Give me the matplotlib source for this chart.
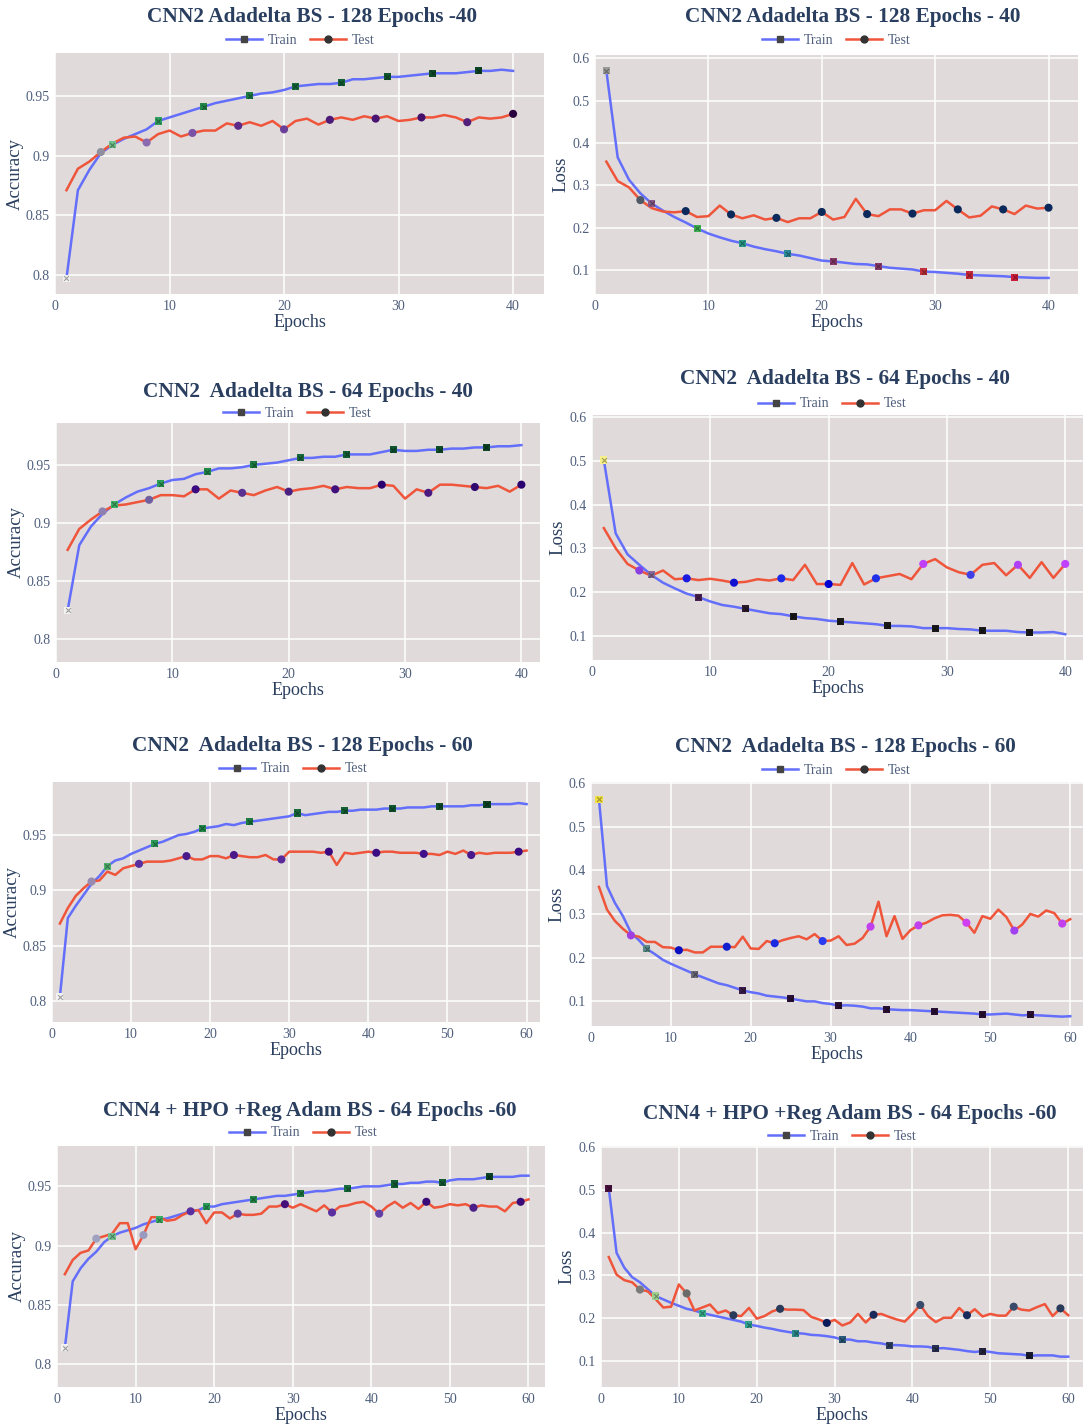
import matplotlib
matplotlib.use('Agg')
import numpy as np
import matplotlib.pyplot as plt
from matplotlib.lines import Line2D
from matplotlib.ticker import FuncFormatter

plt.rcParams['font.family'] = ['Liberation Serif', 'DejaVu Serif']

# ---- data ----
epochs40 = list(range(1, 41))
epochs60 = list(range(1, 61))

acc_train_128_40 = [0.797, 0.871, 0.888, 0.902, 0.909, 0.914, 0.918, 0.922, 0.929, 0.932,
                    0.935, 0.938, 0.941, 0.944, 0.946, 0.948, 0.950, 0.952, 0.953, 0.955,
                    0.958, 0.959, 0.960, 0.960, 0.961, 0.964, 0.964, 0.965, 0.966, 0.966,
                    0.967, 0.968, 0.969, 0.969, 0.969, 0.970, 0.971, 0.971, 0.972, 0.971]
acc_test_128_40 = [0.871, 0.889, 0.895, 0.903, 0.910, 0.915, 0.916, 0.911, 0.918, 0.921,
                   0.916, 0.919, 0.921, 0.921, 0.927, 0.925, 0.928, 0.925, 0.929, 0.922,
                   0.929, 0.931, 0.926, 0.930, 0.932, 0.930, 0.933, 0.931, 0.933, 0.929,
                   0.930, 0.932, 0.932, 0.934, 0.932, 0.928, 0.932, 0.931, 0.932, 0.935]
loss_train_128_40 = [0.571, 0.366, 0.313, 0.281, 0.257, 0.240, 0.225, 0.212, 0.198, 0.186,
                     0.177, 0.169, 0.163, 0.155, 0.149, 0.144, 0.138, 0.134, 0.128, 0.122,
                     0.120, 0.117, 0.114, 0.113, 0.109, 0.105, 0.103, 0.101, 0.096, 0.095,
                     0.093, 0.091, 0.088, 0.087, 0.086, 0.085, 0.083, 0.082, 0.081, 0.081]
loss_test_128_40 = [0.356, 0.310, 0.295, 0.265, 0.246, 0.238, 0.236, 0.239, 0.225, 0.227,
                    0.252, 0.231, 0.222, 0.229, 0.219, 0.223, 0.213, 0.222, 0.222, 0.237,
                    0.219, 0.225, 0.268, 0.232, 0.227, 0.243, 0.243, 0.233, 0.241, 0.241,
                    0.263, 0.243, 0.224, 0.228, 0.250, 0.243, 0.232, 0.252, 0.245, 0.247]

acc_train_64_40 = [0.825, 0.881, 0.897, 0.908, 0.916, 0.922, 0.927, 0.930, 0.934, 0.937,
                   0.938, 0.942, 0.944, 0.947, 0.947, 0.948, 0.950, 0.951, 0.952, 0.954,
                   0.956, 0.956, 0.957, 0.957, 0.959, 0.959, 0.959, 0.961, 0.963, 0.962,
                   0.962, 0.963, 0.963, 0.964, 0.964, 0.965, 0.965, 0.966, 0.966, 0.967]
acc_test_64_40 = [0.877, 0.895, 0.903, 0.910, 0.915, 0.916, 0.918, 0.920, 0.924, 0.924,
                  0.923, 0.929, 0.929, 0.921, 0.928, 0.926, 0.924, 0.928, 0.931, 0.927,
                  0.929, 0.930, 0.932, 0.929, 0.931, 0.930, 0.930, 0.933, 0.932, 0.921,
                  0.929, 0.926, 0.933, 0.933, 0.932, 0.931, 0.930, 0.932, 0.927, 0.933]
loss_train_64_40 = [0.502, 0.334, 0.286, 0.262, 0.239, 0.221, 0.208, 0.196, 0.188, 0.178,
                    0.170, 0.166, 0.161, 0.156, 0.151, 0.149, 0.144, 0.140, 0.138, 0.134,
                    0.132, 0.130, 0.128, 0.126, 0.122, 0.122, 0.121, 0.117, 0.117, 0.117,
                    0.115, 0.114, 0.111, 0.111, 0.111, 0.108, 0.107, 0.107, 0.108, 0.103]
loss_test_64_40 = [0.346, 0.300, 0.264, 0.249, 0.237, 0.249, 0.229, 0.231, 0.227, 0.230,
                   0.226, 0.221, 0.223, 0.229, 0.226, 0.231, 0.227, 0.262, 0.218, 0.218,
                   0.216, 0.266, 0.217, 0.231, 0.236, 0.241, 0.229, 0.264, 0.275, 0.256,
                   0.245, 0.239, 0.262, 0.266, 0.238, 0.262, 0.232, 0.268, 0.232, 0.264]

acc_train_128_60 = [0.804, 0.875, 0.886, 0.896, 0.906, 0.913, 0.922, 0.927, 0.929, 0.933,
                    0.936, 0.939, 0.942, 0.944, 0.947, 0.950, 0.951, 0.953, 0.956, 0.957,
                    0.958, 0.960, 0.959, 0.961, 0.962, 0.963, 0.964, 0.965, 0.966, 0.967,
                    0.970, 0.968, 0.969, 0.970, 0.971, 0.971, 0.972, 0.972, 0.973, 0.973,
                    0.973, 0.974, 0.974, 0.974, 0.975, 0.975, 0.975, 0.976, 0.976, 0.976,
                    0.976, 0.976, 0.977, 0.977, 0.978, 0.978, 0.978, 0.978, 0.979, 0.978]
acc_test_128_60 = [0.870, 0.884, 0.895, 0.902, 0.908, 0.909, 0.917, 0.914, 0.920, 0.922,
                   0.924, 0.926, 0.926, 0.926, 0.927, 0.929, 0.931, 0.928, 0.928, 0.931,
                   0.931, 0.929, 0.932, 0.931, 0.930, 0.930, 0.932, 0.928, 0.928, 0.935,
                   0.935, 0.935, 0.935, 0.934, 0.935, 0.923, 0.934, 0.933, 0.934, 0.935,
                   0.934, 0.935, 0.935, 0.934, 0.934, 0.934, 0.933, 0.933, 0.932, 0.935,
                   0.933, 0.936, 0.932, 0.934, 0.933, 0.934, 0.934, 0.934, 0.935, 0.936]
loss_train_128_60 = [0.562, 0.364, 0.325, 0.295, 0.257, 0.240, 0.220, 0.208, 0.195, 0.186,
                     0.178, 0.170, 0.162, 0.155, 0.148, 0.141, 0.137, 0.131, 0.125, 0.121,
                     0.118, 0.113, 0.111, 0.109, 0.106, 0.103, 0.100, 0.100, 0.096, 0.094,
                     0.090, 0.091, 0.090, 0.088, 0.084, 0.084, 0.082, 0.081, 0.080, 0.080,
                     0.079, 0.078, 0.077, 0.076, 0.075, 0.074, 0.073, 0.072, 0.070, 0.070,
                     0.071, 0.072, 0.070, 0.068, 0.069, 0.068, 0.067, 0.066, 0.065, 0.066]
loss_test_128_60 = [0.362, 0.310, 0.284, 0.266, 0.251, 0.248, 0.236, 0.236, 0.224, 0.223,
                    0.217, 0.218, 0.212, 0.212, 0.225, 0.225, 0.225, 0.224, 0.248, 0.221,
                    0.220, 0.238, 0.233, 0.240, 0.245, 0.249, 0.242, 0.254, 0.238, 0.239,
                    0.249, 0.229, 0.232, 0.245, 0.271, 0.328, 0.249, 0.295, 0.243, 0.263,
                    0.274, 0.280, 0.290, 0.297, 0.298, 0.296, 0.280, 0.257, 0.295, 0.289,
                    0.310, 0.293, 0.262, 0.276, 0.300, 0.294, 0.308, 0.302, 0.278, 0.288]

acc_train_cnn4_60 = [0.814, 0.870, 0.881, 0.889, 0.895, 0.903, 0.908, 0.911, 0.913, 0.915,
                     0.918, 0.920, 0.922, 0.923, 0.925, 0.927, 0.929, 0.930, 0.933, 0.933,
                     0.935, 0.936, 0.937, 0.938, 0.939, 0.940, 0.941, 0.942, 0.942, 0.943,
                     0.944, 0.945, 0.946, 0.946, 0.947, 0.948, 0.948, 0.949, 0.950, 0.950,
                     0.950, 0.951, 0.952, 0.952, 0.953, 0.953, 0.954, 0.954, 0.953, 0.955,
                     0.956, 0.956, 0.956, 0.957, 0.958, 0.958, 0.958, 0.958, 0.959, 0.959]
acc_test_cnn4_60 = [0.876, 0.888, 0.894, 0.896, 0.906, 0.908, 0.910, 0.919, 0.919, 0.897,
                    0.909, 0.924, 0.924, 0.921, 0.922, 0.926, 0.929, 0.930, 0.919, 0.928,
                    0.928, 0.923, 0.927, 0.926, 0.926, 0.927, 0.933, 0.933, 0.935, 0.932,
                    0.935, 0.932, 0.929, 0.934, 0.928, 0.933, 0.934, 0.936, 0.937, 0.933,
                    0.927, 0.933, 0.937, 0.932, 0.936, 0.931, 0.937, 0.932, 0.933, 0.935,
                    0.934, 0.935, 0.932, 0.934, 0.933, 0.933, 0.929, 0.936, 0.937, 0.939]
loss_train_cnn4_60 = [0.504, 0.353, 0.318, 0.296, 0.284, 0.268, 0.252, 0.244, 0.236, 0.229,
                      0.222, 0.218, 0.212, 0.208, 0.204, 0.200, 0.196, 0.192, 0.185, 0.182,
                      0.178, 0.175, 0.171, 0.168, 0.165, 0.164, 0.161, 0.160, 0.158, 0.155,
                      0.150, 0.150, 0.146, 0.146, 0.143, 0.141, 0.137, 0.137, 0.136, 0.134,
                      0.134, 0.133, 0.129, 0.130, 0.128, 0.126, 0.123, 0.121, 0.123, 0.121,
                      0.118, 0.117, 0.116, 0.115, 0.112, 0.113, 0.113, 0.113, 0.110, 0.110]
loss_test_cnn4_60 = [0.343, 0.302, 0.289, 0.284, 0.267, 0.263, 0.245, 0.225, 0.227, 0.279,
                     0.258, 0.218, 0.225, 0.232, 0.212, 0.218, 0.207, 0.205, 0.224, 0.199,
                     0.205, 0.216, 0.222, 0.220, 0.220, 0.219, 0.203, 0.197, 0.189, 0.196,
                     0.183, 0.190, 0.210, 0.190, 0.208, 0.210, 0.203, 0.197, 0.192, 0.210,
                     0.231, 0.205, 0.191, 0.201, 0.201, 0.224, 0.207, 0.221, 0.204, 0.210,
                     0.206, 0.206, 0.227, 0.220, 0.218, 0.226, 0.233, 0.205, 0.223, 0.207]

titles = ['CNN2 Adadelta BS - 128 Epochs -40', 'CNN2 Adadelta BS - 128 Epochs - 40',
          'CNN2  Adadelta BS - 64 Epochs - 40', 'CNN2  Adadelta BS - 64 Epochs - 40',
          'CNN2  Adadelta BS - 128 Epochs - 60', 'CNN2  Adadelta BS - 128 Epochs - 60',
          'CNN4 + HPO +Reg Adam BS - 64 Epochs -60', 'CNN4 + HPO +Reg Adam BS - 64 Epochs -60']

# ---- marker colours (every few epochs a coloured marker) ----
green_acc = ['#f2f2f2', '#6fbf8a', '#2f9e5e', '#23874c', '#1d7a44',
             '#17693b', '#146035', '#115530', '#0f4d2b', '#0c4426']
colors = {
    'p1_tr': green_acc,
    'p1_te': ['#8f8f9f', '#8a6bb0', '#7a52a6', '#5c2a88', '#6a3f99',
              '#4e1a78', '#4a1572', '#45106c', '#52207a', '#2b003f'],
    'p2_tr': ['#9a9a9a', '#8a5a8a', '#3cb050', '#2a9a8a', '#2a8a9a',
              '#8a3a6a', '#8a3a6a', '#c0303a', '#c8283a', '#d01c3a'],
    'p2_te': ['#505a66'] + ['#0b2a5b'] * 9,
    'p3_tr': ['#f2f2f2', '#3cb064', '#2a9d58', '#22884a', '#1b7a42',
              '#17693b', '#146035', '#115530', '#0f4d2b', '#0c4426'],
    'p3_te': ['#9080b0', '#7060a0', '#3a0a80', '#5a3090', '#4a2080',
              '#42107a', '#2a0070', '#4a1a80', '#300870', '#2a0070'],
    'p4_tr': ['#f5f08a', '#8a6a9a', '#4a2050', '#2a1a2a', '#1a1a1a',
              '#1a1a1a', '#1a1a1a', '#1a1a1a', '#1a1a1a', '#1a1a1a'],
    'p4_te': ['#8a40e0', '#1a1ae0', '#1010d0', '#1a2ae8', '#0000d0',
              '#2030e8', '#c040f8', '#4040e8', '#b040f8', '#c040ff'],
    'p5_tr': ['#f2f2f2', '#50b070', '#2a9a58', '#22884a', '#1b7a42',
              '#17693b', '#146035', '#115530', '#0f4d2b', '#0c4426'],
    'p5_te': ['#9a8ab0', '#5a30a0', '#4a1a8a', '#4a1a8a', '#5a2a9a',
              '#3a0a80', '#3c0c82', '#40108a', '#48188c', '#3a0a80'],
    'p6_tr': ['#f0e040', '#5a8a8a', '#6a6a7a', '#3a1a4a', '#2a1035',
              '#2a1035', '#2a1035', '#2a1035', '#2a1035', '#2a1035'],
    'p6_te': ['#a040e0', '#0a10c0', '#1020d0', '#1a2ae0', '#2a3af0',
              '#c040f0', '#c040f0', '#d040f0', '#a040f0', '#c040f0'],
    'p7_tr': ['#f2f2f2', '#70c090', '#3aae64', '#2a9a58', '#23884c',
              '#1d7a44', '#186e3e', '#136034', '#145e35', '#0c4426'],
    'p7_te': ['#a0a0c0', '#9a9ac0', '#5a30a0', '#6040a0', '#45107a',
              '#5a30a0', '#6040a8', '#3a0a78', '#4a2088', '#3a0a78'],
    'p8_tr': ['#4a1040', '#a0d090', '#3ab090', '#30a090', '#2a8a8a',
              '#2a5a7a', '#304060', '#2a3050', '#252540', '#1a1a30'],
    'p8_te': ['#7a7a7a', '#6a6a6a', '#2a3a5a', '#2a3a5a', '#0a1a5a',
              '#1a2a5a', '#3a4a6a', '#1a2a5a', '#3a4a6a', '#2a3a5a'],
}

W, H = 1083, 1427
TRAIN_C = '#636efa'
TEST_C = '#ef553b'
BG = '#e0dada'
TXT = '#2a3f5f'
TICK = '#4f5f7c'

# panel layout: pixel box (left, right, top, bottom), limits, title/legend centre
panels = [
    dict(x=epochs40, tr=acc_train_128_40, te=acc_test_128_40, kind='acc', key='p1',
         box=(55, 544, 53, 294), xlim=(0, 42.7), ylim=(0.784, 0.986),
         tpos=(312, 17), lpos=(300, 40), step=4, tr0=0, te0=3),
    dict(x=epochs40, tr=loss_train_128_40, te=loss_test_128_40, kind='loss', key='p2',
         box=(595, 1078, 55, 294), xlim=(0, 42.6), ylim=(0.043, 0.608),
         tpos=(853, 17), lpos=(836, 40), step=4, tr0=0, te0=3),
    dict(x=epochs40, tr=acc_train_64_40, te=acc_test_64_40, kind='acc', key='p3',
         box=(56, 540, 423, 662), xlim=(0, 41.6), ylim=(0.7806, 0.986),
         tpos=(308, 392), lpos=(297, 413), step=4, tr0=0, te0=3),
    dict(x=epochs40, tr=loss_train_64_40, te=loss_test_64_40, kind='loss', key='p4',
         box=(592, 1083, 415, 660), xlim=(0, 41.5), ylim=(0.044, 0.605),
         tpos=(845, 379), lpos=(832, 404), step=4, tr0=0, te0=3),
    dict(x=epochs60, tr=acc_train_128_60, te=acc_test_128_60, kind='acc', key='p5',
         box=(52, 540, 782, 1022), xlim=(0, 61.7), ylim=(0.781, 0.998),
         tpos=(302, 746), lpos=(293, 769), step=6, tr0=0, te0=4),
    dict(x=epochs60, tr=loss_train_128_60, te=loss_test_128_60, kind='loss', key='p6',
         box=(591, 1083, 782, 1026), xlim=(0, 61.6), ylim=(0.0436, 0.602),
         tpos=(845, 747), lpos=(836, 770), step=6, tr0=0, te0=4),
    dict(x=epochs60, tr=acc_train_cnn4_60, te=acc_test_cnn4_60, kind='acc', key='p7',
         box=(57, 545, 1146, 1387), xlim=(0, 62.1), ylim=(0.781, 0.984),
         tpos=(310, 1111), lpos=(303, 1133), step=6, tr0=0, te0=4),
    dict(x=epochs60, tr=loss_train_cnn4_60, te=loss_test_cnn4_60, kind='loss', key='p8',
         box=(601, 1083, 1146, 1387), xlim=(0, 61.9), ylim=(0.039, 0.603),
         tpos=(850, 1114), lpos=(842, 1136), step=6, tr0=0, te0=4),
]

fig = plt.figure(figsize=(W / 100, H / 100), dpi=100)
fig.patch.set_facecolor('white')

legend_handles = [
    Line2D([], [], color=TRAIN_C, lw=1.8, marker='s', ms=4.5, mfc='#444444', mec='#444444'),
    Line2D([], [], color=TEST_C, lw=1.8, marker='o', ms=5, mfc='#333333', mec='#333333'),
]

for i, p in enumerate(panels):
    l, r, t, b = p['box']
    ax = fig.add_axes([l / W, 1 - b / H, (r - l) / W, (b - t) / H])
    ax.set_facecolor(BG)
    for s in ax.spines.values():
        s.set_visible(False)
    ax.grid(True, color='white', lw=1.1)
    ax.set_axisbelow(True)

    x = np.array(p['x'])
    tr = np.array(p['tr'])
    te = np.array(p['te'])
    ax.plot(x, tr, color=TRAIN_C, lw=1.8, zorder=2)
    ax.plot(x, te, color=TEST_C, lw=1.8, zorder=2)

    itr = np.arange(p['tr0'], len(x), p['step'])
    ite = np.arange(p['te0'], len(x), p['step'])
    ax.scatter(x[itr], tr[itr], marker='s', s=26, c=colors[p['key'] + '_tr'][:len(itr)],
               zorder=3, linewidths=0)
    ax.scatter(x[itr], tr[itr], marker='x', s=12, c='#000000', alpha=0.35,
               zorder=4, linewidths=0.8)
    ax.scatter(x[ite], te[ite], marker='o', s=34, c=colors[p['key'] + '_te'][:len(ite)],
               zorder=3, linewidths=0)

    ax.set_xlim(*p['xlim'])
    ax.set_ylim(*p['ylim'])
    if len(x) == 40:
        ax.set_xticks([0, 10, 20, 30, 40])
    else:
        ax.set_xticks([0, 10, 20, 30, 40, 50, 60])
    if p['kind'] == 'acc':
        ax.set_yticks([0.8, 0.85, 0.9, 0.95])
        ax.set_ylabel('Accuracy', fontsize=13.5, color=TXT, labelpad=1)
    else:
        ax.set_yticks([0.1, 0.2, 0.3, 0.4, 0.5, 0.6])
        ax.set_ylabel('Loss', fontsize=13.5, color=TXT, labelpad=2)
    ax.yaxis.set_major_formatter(FuncFormatter(lambda v, pos: '{:g}'.format(round(v, 3))))
    ax.tick_params(length=0, labelsize=10, colors=TICK, pad=4)
    ax.set_xlabel('Epochs', fontsize=13, color=TXT, labelpad=1)

    fig.text(p['tpos'][0] / W, 1 - p['tpos'][1] / H, titles[i], ha='center', va='center',
             fontsize=15.3, fontweight='bold', color=TXT)
    ax.legend(legend_handles, ['Train', 'Test'], loc='center',
              bbox_to_anchor=(p['lpos'][0] / W, 1 - p['lpos'][1] / H),
              bbox_transform=fig.transFigure, ncol=2, frameon=False, fontsize=10,
              handlelength=2.6, columnspacing=0.9, handletextpad=0.4, borderpad=0,
              labelcolor=TICK)

fig.savefig('out.png', dpi=100)
